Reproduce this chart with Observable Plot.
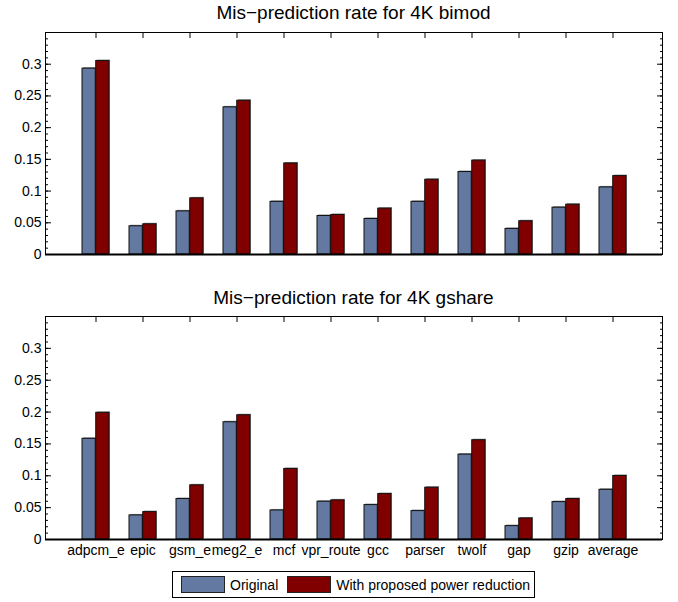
<!DOCTYPE html>
<html>
<head>
<meta charset="utf-8">
<script src="https://cdn.jsdelivr.net/npm/d3@7"></script>
<script src="https://cdn.jsdelivr.net/npm/@observablehq/plot@0.6"></script>
<style>
  html, body { margin: 0; padding: 0; background: #fff; }
  #wrap { position: relative; width: 678px; height: 602px; font-family: "Liberation Sans", Arial, Helvetica, sans-serif; color: #000; }
  .panel { position: absolute; left: 0; }
  .title { position: absolute; left: 45px; width: 617px; text-align: center; font-size: 19px; line-height: 22px; }
  #legend { position: absolute; left: 172px; top: 571px; width: 361px; height: 25px; border: 1.5px solid #000; display: flex; align-items: center; font-size: 14px; box-sizing: content-box; }
  .sw { display: inline-block; width: 42px; height: 15px; border: 1px solid #222; margin-right: 5px; }
</style>
</head>
<body>
<div id="wrap">
  <div class="title" id="t1" style="top:2px"></div>
  <div class="panel" id="p1" style="top:0px"></div>
  <div class="title" id="t2" style="top:287px"></div>
  <div class="panel" id="p2" style="top:284px"></div>
  <div id="legend"></div>
</div>
<script>
const categories = ["adpcm_e","epic","gsm_e","meg2_e","mcf","vpr_route","gcc","parser","twolf","gap","gzip","average"];
const seriesNames = ["Original", "With proposed power reduction"];
const seriesColors = ["#6379a1", "#800000"];
const titles = ["Mis\u2212prediction rate for 4K bimod", "Mis\u2212prediction rate for 4K gshare"];

const bimodOriginal  = [0.293, 0.0445, 0.068, 0.232, 0.083, 0.0607, 0.056, 0.083, 0.130, 0.0403, 0.0738, 0.1058];
const bimodProposed  = [0.305, 0.0476, 0.0885, 0.2424, 0.1435, 0.0623, 0.0723, 0.1178, 0.148, 0.0524, 0.0785, 0.1236];
const gshareOriginal = [0.158, 0.0378, 0.0635, 0.184, 0.0456, 0.0593, 0.054, 0.0446, 0.1332, 0.021, 0.0587, 0.078];
const gshareProposed = [0.1988, 0.043, 0.085, 0.195, 0.1107, 0.0614, 0.0713, 0.0813, 0.1558, 0.033, 0.0635, 0.0997];

const yTicks = [0, 0.05, 0.1, 0.15, 0.2, 0.25, 0.3];
const yTickLabels = ["0", "0.05", "0.1", "0.15", "0.2", "0.25", "0.3"];
const yMinorTicks = d3.range(0, 36).map(i => i / 100);

function panel(orig, prop, showX, height, marginBottom) {
  const data0 = categories.map((c, i) => ({cat: c, v: orig[i]}));
  const data1 = categories.map((c, i) => ({cat: c, v: prop[i]}));
  const outer = 10, inner = 23.73;
  const marks = [
    // shadows
    Plot.barY(data0, {x: "cat", y: "v", fill: "#8a8a8a", insetLeft: outer, insetRight: inner, dx: 1, dy: -1}),
    Plot.barY(data1, {x: "cat", y: "v", fill: "#8a8a8a", insetLeft: inner, insetRight: outer, dx: 1, dy: -1}),
    Plot.barY(data0, {x: "cat", y: "v", fill: seriesColors[0], stroke: "#111", strokeWidth: 1, insetLeft: outer, insetRight: inner}),
    Plot.barY(data1, {x: "cat", y: "v", fill: seriesColors[1], stroke: "#111", strokeWidth: 1, insetLeft: inner, insetRight: outer}),
    Plot.frame({stroke: "#000", strokeWidth: 1}),
    Plot.ruleY([0], {stroke: "#000", strokeWidth: 2}),
    // y labels
    Plot.axisY({anchor: "left", ticks: yTicks, tickSize: 0, tickPadding: 4, tickFormat: d => yTickLabels[yTicks.indexOf(d)], label: null, fontSize: 14}),
    // inward ticks
    Plot.axisY({anchor: "left", ticks: yTicks, tickSize: -6, tickFormat: () => "", label: null}),
    Plot.axisY({anchor: "left", ticks: yMinorTicks, tickSize: -3, tickFormat: () => "", label: null}),
    Plot.axisY({anchor: "right", ticks: yTicks, tickSize: -6, tickFormat: () => "", label: null}),
    Plot.axisY({anchor: "right", ticks: yMinorTicks, tickSize: -3, tickFormat: () => "", label: null}),
    Plot.axisX({anchor: "top", tickSize: -5, tickFormat: () => "", label: null})
  ];
  if (showX) marks.push(Plot.axisX({anchor: "bottom", tickSize: 0, tickPadding: 6, label: null, fontSize: 14}));
  return Plot.plot({
    width: 678,
    height: height,
    marginLeft: 45,
    marginRight: 16,
    marginTop: 32,
    marginBottom: marginBottom,
    style: {fontFamily: '"Liberation Sans", Arial, Helvetica, sans-serif', fontSize: "14px", color: "#000", background: "transparent"},
    x: {type: "band", domain: categories, paddingInner: 0, paddingOuter: 0.5, align: 0.5},
    y: {domain: [0, 0.35]},
    marks
  });
}

document.getElementById("t1").textContent = titles[0];
document.getElementById("t2").textContent = titles[1];
document.getElementById("p1").appendChild(panel(bimodOriginal, bimodProposed, false, 270, 16));
document.getElementById("p2").appendChild(panel(gshareOriginal, gshareProposed, true, 284, 29));

const leg = document.getElementById("legend");
seriesNames.forEach((n, i) => {
  const sw = document.createElement("span");
  sw.className = "sw";
  sw.style.background = seriesColors[i];
  sw.style.marginLeft = i === 0 ? "8px" : "9px";
  leg.appendChild(sw);
  const t = document.createElement("span");
  t.textContent = n;
  leg.appendChild(t);
});
</script>
</body>
</html>
